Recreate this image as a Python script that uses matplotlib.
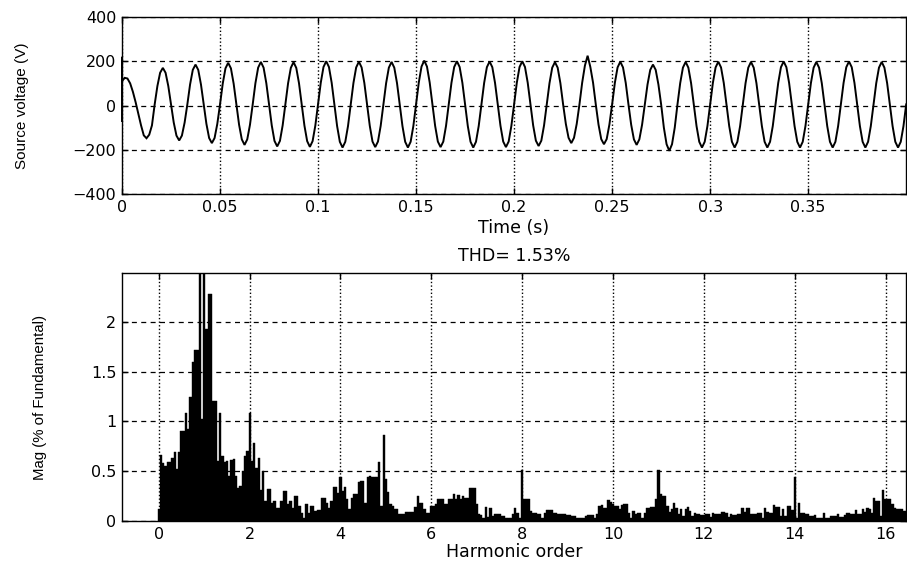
import numpy as np
import matplotlib
matplotlib.use("Agg")
import matplotlib.pyplot as plt

# ---------------- data ----------------
wave_sample_rate = 720.0           # samples per second in the listing below
transient_start = [-70, 220]       # spike drawn at t = 0
source_voltage = [
    110, 125, 122, 100, 62, 15, -38, -90, -135, -148, -132, -90,
    5, 88, 148, 170, 148, 88, 5, -77, -136, -158, -136, -77,
    5, 95, 161, 185, 161, 95, 5, -83, -147, -170, -147, -83,
    5, 99, 168, 193, 168, 99, 5, -87, -153, -178, -153, -87,
    5, 101, 171, 197, 171, 101, 5, -90, -160, -185, -160, -90,
    5, 101, 170, 196, 170, 101, 5, -91, -161, -187, -161, -91,
    5, 103, 174, 200, 174, 103, 5, -93, -164, -190, -164, -93,
    5, 102, 172, 198, 172, 102, 5, -92, -163, -188, -163, -92,
    5, 101, 171, 197, 171, 101, 5, -93, -164, -190, -164, -93,
    5, 104, 176, 203, 176, 104, 5, -92, -163, -188, -163, -92,
    5, 103, 174, 200, 174, 103, 5, -93, -164, -190, -164, -93,
    5, 102, 173, 199, 173, 102, 5, -92, -163, -188, -163, -92,
    5, 103, 174, 200, 174, 103, 5, -90, -159, -183, -159, -90,
    5, 101, 171, 196, 171, 101, 5, -83, -146, -170, -146, -83,
    5, 103, 180, 225, 174, 103, 5, -86, -152, -175, -152, -86,
    5, 102, 172, 198, 172, 102, 5, -87, -153, -178, -153, -87,
    5, 95, 161, 185, 161, 95, 5, -100, -175, -205, -175, -100,
    5, 101, 171, 197, 171, 101, 5, -93, -164, -190, -164, -93,
    5, 102, 172, 198, 172, 102, 5, -93, -164, -190, -164, -93,
    5, 101, 171, 197, 171, 101, 5, -93, -164, -190, -164, -93,
    5, 102, 173, 199, 173, 102, 5, -93, -164, -190, -164, -93,
    5, 101, 171, 197, 171, 101, 5, -93, -164, -190, -164, -93,
    5, 102, 173, 199, 173, 102, 5, -93, -164, -190, -164, -93,
    5, 101, 171, 197, 171, 101, 5, -93, -164, -190, -164, -93,
    5,
]

harmonic_step = 0.05
spectrum_mag = [
    0.12, 0.66, 0.58, 0.55, 0.59, 0.59, 0.63, 0.69, 0.52, 0.69,
    0.90, 0.90, 1.08, 0.92, 1.25, 1.60, 1.72, 1.72, 2.60, 1.02,
    100.0, 1.93, 2.28, 2.28, 1.20, 1.20, 0.60, 1.08, 0.65, 0.59,
    0.60, 0.45, 0.61, 0.62, 0.45, 0.33, 0.35, 0.50, 0.65, 0.70,
    1.08, 0.60, 0.78, 0.53, 0.63, 0.31, 0.50, 0.20, 0.32, 0.32,
    0.18, 0.20, 0.13, 0.13, 0.20, 0.30, 0.30, 0.17, 0.20, 0.13,
    0.25, 0.25, 0.15, 0.08, 0.03, 0.175, 0.08, 0.15, 0.15, 0.10,
    0.11, 0.11, 0.23, 0.23, 0.185, 0.135, 0.20, 0.34, 0.34, 0.28,
    0.44, 0.30, 0.34, 0.22, 0.12, 0.23, 0.27, 0.27, 0.39, 0.40,
    0.40, 0.185, 0.44, 0.45, 0.44, 0.44, 0.44, 0.59, 0.15, 0.86,
    0.42, 0.29, 0.175, 0.15, 0.125, 0.125, 0.07, 0.07, 0.07, 0.09,
    0.09, 0.09, 0.09, 0.14, 0.25, 0.185, 0.185, 0.12, 0.08, 0.08,
    0.15, 0.15, 0.175, 0.22, 0.22, 0.22, 0.17, 0.17, 0.22, 0.22,
    0.27, 0.22, 0.26, 0.22, 0.25, 0.235, 0.235, 0.33, 0.33, 0.33,
    0.17, 0.07, 0.06, 0.03, 0.14, 0.04, 0.135, 0.05, 0.07, 0.07,
    0.075, 0.05, 0.05, 0.035, 0.035, 0.035, 0.075, 0.135, 0.085, 0.035,
    0.51, 0.22, 0.22, 0.22, 0.10, 0.085, 0.085, 0.07, 0.07, 0.035,
    0.085, 0.11, 0.11, 0.11, 0.085, 0.085, 0.07, 0.07, 0.07, 0.07,
    0.06, 0.06, 0.05, 0.05, 0.035, 0.035, 0.03, 0.03, 0.05, 0.06,
    0.06, 0.06, 0.035, 0.075, 0.15, 0.16, 0.135, 0.135, 0.21, 0.195,
    0.17, 0.15, 0.15, 0.12, 0.16, 0.17, 0.17, 0.085, 0.03, 0.10,
    0.07, 0.085, 0.085, 0.03, 0.085, 0.135, 0.135, 0.14, 0.14, 0.22,
    0.51, 0.27, 0.25, 0.25, 0.15, 0.095, 0.12, 0.185, 0.135, 0.075,
    0.12, 0.05, 0.12, 0.14, 0.10, 0.05, 0.08, 0.075, 0.07, 0.06,
    0.06, 0.075, 0.075, 0.04, 0.085, 0.075, 0.075, 0.07, 0.09, 0.09,
    0.077, 0.04, 0.07, 0.06, 0.06, 0.075, 0.075, 0.13, 0.095, 0.135,
    0.135, 0.075, 0.07, 0.07, 0.085, 0.085, 0.035, 0.135, 0.095, 0.085,
    0.085, 0.16, 0.14, 0.14, 0.05, 0.12, 0.05, 0.15, 0.15, 0.11,
    0.44, 0.035, 0.185, 0.085, 0.085, 0.07, 0.07, 0.05, 0.05, 0.06,
    0.035, 0.035, 0.035, 0.085, 0.035, 0.035, 0.05, 0.05, 0.05, 0.075,
    0.04, 0.04, 0.06, 0.085, 0.085, 0.07, 0.075, 0.11, 0.075, 0.075,
    0.12, 0.095, 0.135, 0.12, 0.085, 0.23, 0.20, 0.20, 0.05, 0.31,
    0.22, 0.22, 0.22, 0.175, 0.13, 0.12, 0.12, 0.12, 0.10, 0.10,
]

thd_label = "THD= 1.53%"
time_ticks = [0, 0.05, 0.1, 0.15, 0.2, 0.25, 0.3, 0.35]
time_tick_labels = ["0", "0.05", "0.1", "0.15", "0.2", "0.25", "0.3", "0.35"]
volt_ticks = [-400, -200, 0, 200, 400]
harm_ticks = [0, 2, 4, 6, 8, 10, 12, 14, 16]
mag_ticks = [0, 0.5, 1, 1.5, 2]
mag_tick_labels = ["0", "0.5", "1", "1.5", "2"]

# ---------------- figure ----------------
plt.rcParams["font.family"] = ["DejaVu Sans"]
W, H = 907, 567
fig = plt.figure(figsize=(W / 100, H / 100), dpi=100)
fig.patch.set_facecolor("white")

ax1 = fig.add_axes([122 / W, 1 - 194 / H, 784 / W, 177 / H])
ax2 = fig.add_axes([122 / W, 1 - 521 / H, 784 / W, 248 / H])

narrow = ["Liberation Sans", "DejaVu Sans"]

for ax in (ax1, ax2):
    ax.set_axisbelow(True)
    ax.xaxis.grid(True, linestyle=(0, (1, 1.6)), color="black", linewidth=1.0)
    ax.yaxis.grid(True, linestyle=(0, (4, 3.5)), color="black", linewidth=0.9)
    ax.tick_params(direction="in", length=4, width=1, top=True, right=True,
                   labelsize=11.5, colors="black", pad=4)
    for s in ax.spines.values():
        s.set_color("black")
        s.set_linewidth(1.0)

# top: source voltage
t_main = np.arange(len(source_voltage)) / wave_sample_rate
t_all = np.concatenate([np.zeros(len(transient_start)), t_main])
v_all = np.concatenate([transient_start, source_voltage])
ax1.plot(t_all, v_all, color="black", linewidth=1.4, solid_joinstyle="miter",
         clip_on=False)
ax1.set_xlim(0, 0.3999)
ax1.set_ylim(-400, 400)
ax1.set_xticks(time_ticks)
ax1.set_xticklabels(time_tick_labels)
ax1.set_yticks(volt_ticks)
ax1.set_xlabel("Time (s)", fontsize=12.5)
ax1.xaxis.set_label_coords(0.5, -0.19)
ax1.xaxis.label.set_verticalalignment("center")
ax1.set_ylabel("Source voltage (V)", fontsize=11, family=narrow)
ax1.yaxis.label.set_verticalalignment("center")
ax1.yaxis.set_label_coords(-0.128, 0.5)

# bottom: harmonic spectrum
harm = np.arange(len(spectrum_mag)) * harmonic_step
ax2.bar(harm, spectrum_mag, width=harmonic_step, align="center",
        color="black", edgecolor="black", linewidth=0.3)
ax2.set_xlim(-0.81, 16.45)
ax2.set_ylim(0, 2.49)
ax2.set_xticks(harm_ticks)
ax2.set_yticks(mag_ticks)
ax2.set_yticklabels(mag_tick_labels)
ax2.set_xlabel("Harmonic order", fontsize=12.5)
ax2.xaxis.set_label_coords(0.5, -0.123)
ax2.xaxis.label.set_verticalalignment("center")
ax2.set_ylabel("Mag (% of Fundamental)", fontsize=10.8, family=narrow)
ax2.yaxis.label.set_verticalalignment("center")
ax2.yaxis.set_label_coords(-0.105, 0.5)
ax2.text(0.5, 1.069, thd_label, transform=ax2.transAxes, ha="center",
         va="center", fontsize=12.5)

fig.savefig("out.png", dpi=100, facecolor="white")
